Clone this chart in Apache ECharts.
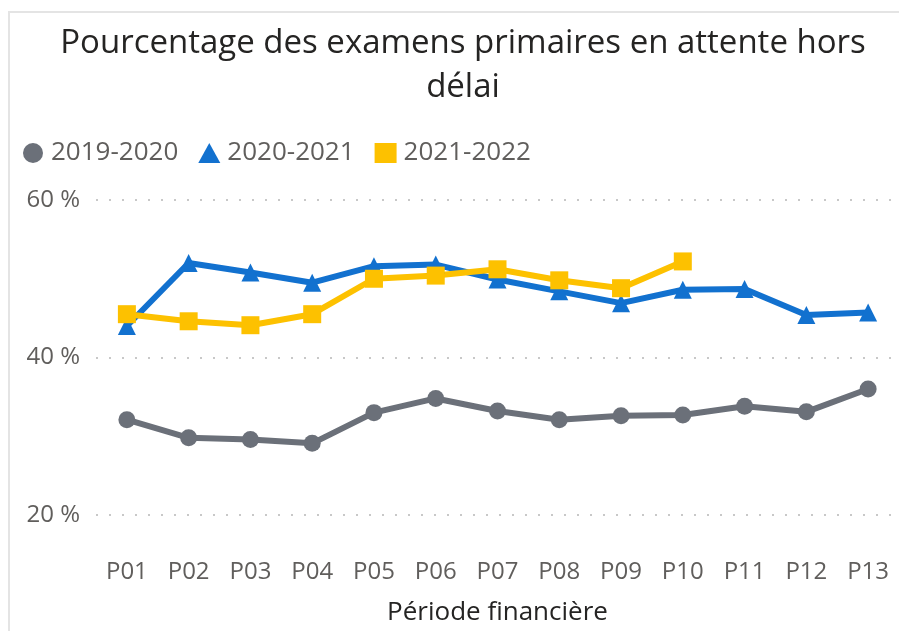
<!DOCTYPE html>
<html><head><meta charset="utf-8">
<script src="https://cdn.jsdelivr.net/npm/echarts@6/dist/echarts.min.js"></script>
<style>html,body{margin:0;padding:0;background:#fff}#c{width:899px;height:631px}</style>
</head><body><div id="c"></div>
<script>
const categories = ['P01','P02','P03','P04','P05','P06','P07','P08','P09','P10','P11','P12','P13'];
const s2019 = [32.1, 29.8, 29.6, 29.1, 33.0, 34.8, 33.2, 32.1, 32.6, 32.7, 33.8, 33.1, 36.0];
const s2020 = [44.0, 52.0, 50.8, 49.5, 51.6, 51.8, 49.9, 48.4, 46.9, 48.6, 48.7, 45.4, 45.7];
const s2021 = [45.5, 44.6, 44.1, 45.5, 50.0, 50.4, 51.2, 49.8, 48.8, 52.2];
const yTicks = [20, 40, 60];
const seriesNames = ['2019-2020', '2020-2021', '2021-2022'];

const font = '"Open Sans", sans-serif';
const chart = echarts.init(document.getElementById('c'), null, {renderer: 'canvas'});
chart.setOption({
  animation: false,
  backgroundColor: '#fff',
  graphic: [
    {type: 'rect', shape: {x: 9, y: 12, width: 900, height: 640}, style: {fill: 'none', stroke: '#e4e4e4', lineWidth: 2}, z: -1}
  ],
  title: {
    text: 'Pourcentage des examens primaires en attente hors\ndélai',
    left: 458, textAlign: 'center', top: 17, padding: 5,
    textStyle: {fontFamily: font, fontSize: 33, fontWeight: 'normal', color: '#252423', lineHeight: 44}
  },
  legend: {
    left: 18, top: 135, itemGap: 20, itemWidth: 22, itemHeight: 20,
    textStyle: {fontFamily: font, fontSize: 26, color: '#605E5C', padding: [0,0,0,2]},
    data: [
      {name: seriesNames[0], icon: 'circle'},
      {name: seriesNames[1], icon: 'triangle'},
      {name: seriesNames[2], icon: 'rect'}
    ]
  },
  grid: {left: 96, right: -11, top: 200, bottom: 115, containLabel: false},
  xAxis: {
    type: 'category', data: categories, boundaryGap: true,
    axisLine: {show: false}, axisTick: {show: false},
    axisLabel: {fontFamily: font, fontSize: 24, color: '#605E5C', margin: 45},
    name: 'Période financière', nameLocation: 'middle', nameGap: 85,
    nameTextStyle: {fontFamily: font, fontSize: 26, color: '#252423'}
  },
  yAxis: {
    type: 'value', min: 20, max: 60, interval: 20,
    axisLine: {show: false}, axisTick: {show: false},
    axisLabel: {fontFamily: font, fontSize: 24, color: '#605E5C', margin: 16,
      formatter: v => yTicks.includes(v) ? v + ' %' : ''},
    splitLine: {lineStyle: {color: '#c8c8c8', type: [2, 11], width: 2}}
  },
  series: [
    {name: seriesNames[0], type: 'line', data: s2019, symbol: 'circle', symbolSize: 17,
     lineStyle: {width: 6, color: '#6B7079'}, itemStyle: {color: '#6B7079'}},
    {name: seriesNames[1], type: 'line', data: s2020, symbol: 'triangle', symbolSize: 18,
     lineStyle: {width: 6, color: '#1271CF'}, itemStyle: {color: '#1271CF'}},
    {name: seriesNames[2], type: 'line', data: s2021, symbol: 'rect', symbolSize: 18,
     lineStyle: {width: 6, color: '#FDC100'}, itemStyle: {color: '#FDC100'}}
  ]
});
</script></body></html>
